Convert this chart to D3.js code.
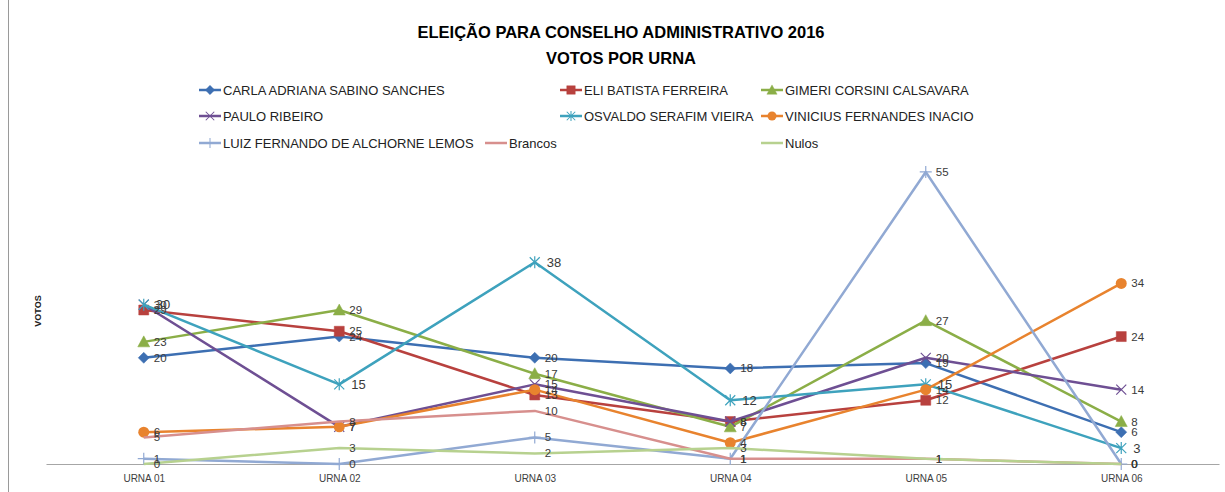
<!DOCTYPE html>
<html>
<head>
<meta charset="utf-8">
<script src="https://cdn.jsdelivr.net/npm/d3@7"></script>
<style>
  body { margin: 0; background: #fff; }
  svg { font-family: "Liberation Sans", Arial, sans-serif; }
  .line { fill: none; stroke-width: 2.5; stroke-linejoin: round; }
</style>
</head>
<body>
<div class="lineChart"></div>
<script>
const WIDTH = 1225;
const HEIGHT = 492;

var urnas = ['URNA 01', 'URNA 02', 'URNA 03', 'URNA 04', 'URNA 05', 'URNA 06'];

var seriesNames = [
    'CARLA ADRIANA SABINO SANCHES', 'ELI BATISTA FERREIRA', 'GIMERI CORSINI CALSAVARA',
    'PAULO RIBEIRO', 'OSVALDO SERAFIM VIEIRA', 'VINICIUS FERNANDES INACIO',
    'LUIZ FERNANDO DE ALCHORNE LEMOS', 'Brancos', 'Nulos'
];

var carla = [20, 24, 20, 18, 19, 6];
var eli = [29, 25, 13, 8, 12, 24];
var gimeri = [23, 29, 17, 7, 27, 8];
var paulo = [30, 7, 15, 8, 20, 14];
var osvaldo = [30, 15, 38, 12, 15, 3];
var vinicius = [6, 7, 14, 4, 14, 34];
var luiz = [1, 0, 5, 1, 55, 0];
var brancos = [5, 8, 10, 1, 1, 0];
var nulos = [0, 3, 2, 3, 1, 0];

var seriesValues = [carla, eli, gimeri, paulo, osvaldo, vinicius, luiz, brancos, nulos];
var seriesColors = ['#3d6fb2', '#b8413e', '#8bae47', '#6e4f93', '#3ea2bd', '#e8832e', '#91a9d3', '#d78f8d', '#b7d18f'];
var seriesMarkers = ['diamond', 'square', 'triangle', 'x', 'star', 'circle', 'plus', 'none', 'none'];

var xScale = d3.scalePoint().domain(urnas).range([46, 1219]).padding(0.5);
var yScale = d3.scaleLinear().domain([0, 60]).range([464, 145.4]);

var svg = d3.select('.lineChart').append('svg')
    .attr('width', WIDTH)
    .attr('height', HEIGHT);

// frame edge on the left
svg.append('line')
    .attr('x1', 8.5).attr('x2', 8.5).attr('y1', 0).attr('y2', HEIGHT)
    .attr('stroke', '#9a9a9a').attr('stroke-width', 1);

// title
var title = svg.append('text')
    .attr('text-anchor', 'middle')
    .attr('font-weight', 'bold')
    .attr('font-size', 16.5)
    .attr('fill', '#000');
title.append('tspan').attr('x', 621).attr('y', 38).text('ELEIÇÃO PARA CONSELHO ADMINISTRATIVO 2016');
title.append('tspan').attr('x', 621).attr('y', 64).text('VOTOS POR URNA');

// y axis title
svg.append('text')
    .attr('transform', 'translate(41,311) rotate(-90)')
    .attr('text-anchor', 'middle')
    .attr('font-size', 9)
    .attr('font-weight', 'bold')
    .attr('fill', '#222')
    .text('VOTOS');

// x axis
var xAxis = d3.axisBottom(xScale).tickSize(0).tickPadding(11);
var xAxisG = svg.append('g').attr('transform', 'translate(0,' + yScale(0) + ')').call(xAxis);
xAxisG.select('.domain').attr('stroke', '#a6a6a6').attr('stroke-width', 1.2);
xAxisG.selectAll('text').attr('font-size', 10).attr('fill', '#404040')
    .attr('font-family', '"Liberation Sans", Arial, sans-serif');

function markerPath(type) {
    if (type === 'diamond') return 'M0,-5.5L5.5,0L0,5.5L-5.5,0Z';
    if (type === 'square') return 'M-5,-5H5V5H-5Z';
    if (type === 'triangle') return 'M0,-6L6,5H-6Z';
    if (type === 'x') return 'M-5,-5L5,5M-5,5L5,-5';
    if (type === 'star') return 'M-5,-5L5,5M-5,5L5,-5M0,-6V6';
    if (type === 'plus') return 'M-6,0H6M0,-6V6';
    return null;
}

var line = d3.line()
    .x(function (d, i) { return xScale(urnas[i]); })
    .y(function (d) { return yScale(d); });

seriesValues.forEach(function (values, s) {
    var color = seriesColors[s];
    var g = svg.append('g');
    g.append('path')
        .attr('class', 'line')
        .attr('d', line(values))
        .attr('stroke', color);

    var type = seriesMarkers[s];
    values.forEach(function (v, i) {
        var cx = xScale(urnas[i]);
        var cy = yScale(v);
        if (type === 'circle') {
            g.append('circle').attr('cx', cx).attr('cy', cy).attr('r', 5.5).attr('fill', color);
        } else if (type !== 'none') {
            var open = (type === 'x' || type === 'star' || type === 'plus');
            g.append('path')
                .attr('d', markerPath(type))
                .attr('transform', 'translate(' + cx + ',' + cy + ')')
                .attr('fill', open ? 'none' : color)
                .attr('stroke', color)
                .attr('stroke-width', open ? 1.2 : 0.5);
        }
    });
});

// data labels
seriesValues.forEach(function (values, s) {
    var big = (s === 4);
    svg.append('g').selectAll('text').data(values).enter().append('text')
        .attr('x', function (d, i) { return xScale(urnas[i]) + (big ? 12 : 10); })
        .attr('y', function (d) { return yScale(d); })
        .attr('dy', '0.35em')
        .attr('font-size', big ? 13 : 11.5)
        .attr('fill', '#3a3a3a')
        .text(function (d) { return d; });
});

// legend
var legendPos = [
    [199, 90], [560, 90], [761, 90],
    [199, 116], [560, 116], [761, 116],
    [199, 143], [485, 143], [761, 143]
];
seriesNames.forEach(function (name, s) {
    var lg = svg.append('g').attr('transform', 'translate(' + legendPos[s][0] + ',' + legendPos[s][1] + ')');
    var color = seriesColors[s];
    lg.append('line').attr('x1', 0).attr('x2', 22).attr('y1', 0).attr('y2', 0)
        .attr('stroke', color).attr('stroke-width', 2.5);
    var type = seriesMarkers[s];
    if (type === 'circle') {
        lg.append('circle').attr('cx', 11).attr('cy', 0).attr('r', 4.5).attr('fill', color);
    } else if (type !== 'none') {
        var open = (type === 'x' || type === 'star' || type === 'plus');
        lg.append('path').attr('d', markerPath(type))
            .attr('transform', 'translate(11,0) scale(0.85)')
            .attr('fill', open ? 'none' : color)
            .attr('stroke', color).attr('stroke-width', open ? 1.2 : 0.5);
    }
    lg.append('text').attr('x', 24).attr('y', 0).attr('dy', '0.35em')
        .attr('font-size', 13).attr('fill', '#222').text(name);
});
</script>
</body>
</html>
